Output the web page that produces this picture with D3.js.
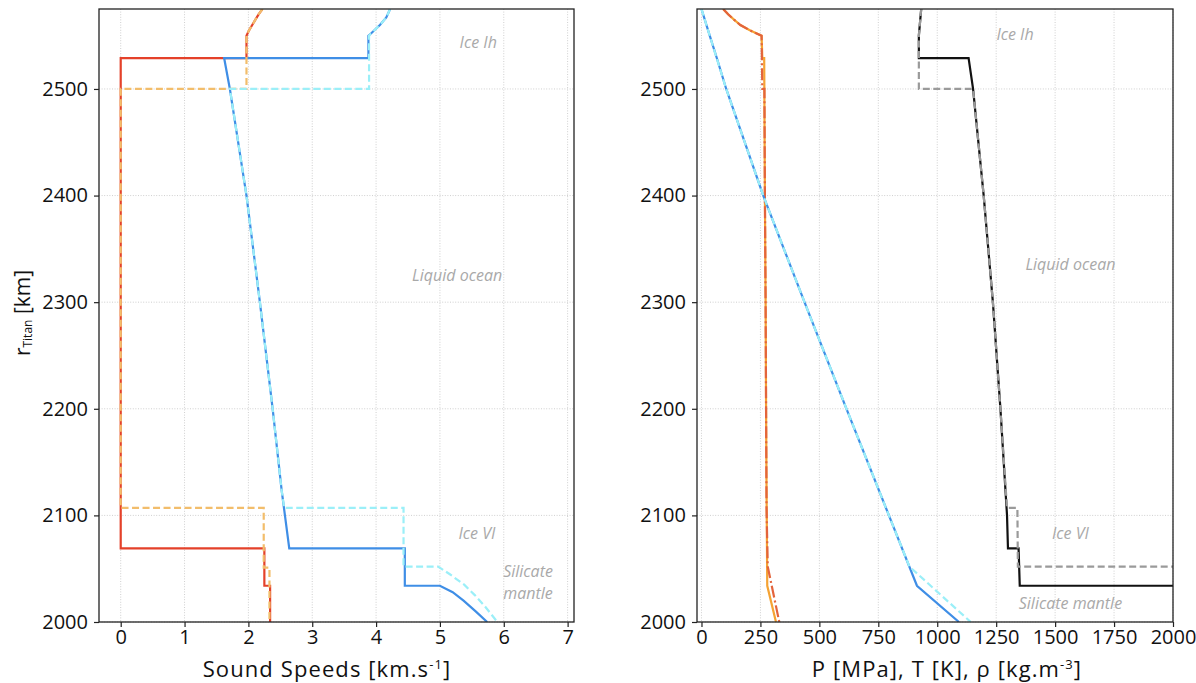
<!DOCTYPE html>
<html>
<head>
<meta charset="utf-8">
<script src="https://cdnjs.cloudflare.com/ajax/libs/d3/7.8.5/d3.min.js"></script>
<style>
    body { margin: 0; background: #fff; }
    svg { font-family: "Open Sans", "DejaVu Sans", sans-serif; }
</style>
</head>
<body>
<div id="chart"></div>
<script>
// shared radius ticks (km)
const rTicks = [2000, 2100, 2200, 2300, 2400, 2500]
const speedTicks = [0, 1, 2, 3, 4, 5, 6, 7]
const propTicks = [0, 250, 500, 750, 1000, 1250, 1500, 1750, 2000]

// Left panel, [speed km/s, r km]
const vsSolid = [[2.22, 2575], [2.16, 2570], [2.11, 2565], [2.06, 2560], [2.01, 2555], [1.97, 2550],
    [1.97, 2529], [0, 2529], [0, 2069], [2.25, 2069], [2.25, 2034], [2.34, 2034], [2.34, 2000]]
const vsDashed = [[2.22, 2575], [2.16, 2570], [2.11, 2565], [2.06, 2560], [2.01, 2555], [1.97, 2550],
    [1.97, 2500], [0, 2500], [0, 2107], [2.24, 2107], [2.24, 2051], [2.33, 2051], [2.33, 2000]]
const vpSolid = [[4.22, 2575], [4.16, 2567], [4.06, 2560], [3.92, 2552], [3.88, 2550], [3.88, 2529],
    [1.62, 2529], [1.71, 2500], [1.97, 2400], [2.18, 2300], [2.38, 2200], [2.52, 2124], [2.64, 2069],
    [4.45, 2069], [4.45, 2034], [5.0, 2034], [5.2, 2028], [5.37, 2020], [5.56, 2010], [5.74, 2000]]
const vpDashed = [[4.22, 2575], [4.16, 2567], [4.06, 2560], [3.92, 2552], [3.89, 2550], [3.89, 2500],
    [1.71, 2500], [1.97, 2400], [2.18, 2300], [2.38, 2200], [2.52, 2124], [2.56, 2107],
    [4.43, 2107], [4.43, 2052], [4.97, 2052], [5.15, 2045], [5.38, 2035], [5.55, 2025], [5.7, 2015], [5.9, 2000]]

// Right panel, [value, r km]
const tempSolid = [[92, 2575], [113, 2570], [138, 2565], [165, 2560], [205, 2555], [255, 2550],
    [258, 2529], [266, 2529], [269, 2400], [272, 2300], [274, 2200], [276, 2124], [279, 2034], [316, 2000]]
const tempDashDot = [[92, 2575], [113, 2570], [138, 2565], [165, 2560], [205, 2555], [255, 2550],
    [258, 2500], [267, 2500], [269, 2400], [272, 2300], [274, 2200], [276, 2107], [281, 2052], [330, 2000]]
const presSolid = [[0, 2575], [35, 2550], [65, 2529], [105, 2500], [262, 2400], [437, 2300],
    [615, 2200], [795, 2100], [914, 2034], [1092, 2000]]
const presDashed = [[0, 2575], [35, 2550], [105, 2500], [262, 2400], [437, 2300],
    [615, 2200], [795, 2100], [882, 2052], [1142, 2000]]
const rhoSolid = [[932, 2575], [922, 2550], [922, 2529], [1133, 2529], [1152, 2500], [1197, 2400],
    [1236, 2300], [1268, 2200], [1296, 2100], [1300, 2069], [1345, 2069], [1350, 2034], [3300, 2034]]
const rhoDashed = [[932, 2575], [922, 2550], [922, 2500], [1152, 2500], [1197, 2400],
    [1236, 2300], [1268, 2200], [1296, 2107], [1340, 2107], [1342, 2052], [3300, 2052]]

// layer names, lines split with "|"
const layerLabels = [
    {panel: 0, text: "Ice Ih", x: 5.6, r: 2542},
    {panel: 0, text: "Liquid ocean", x: 5.27, r: 2324},
    {panel: 0, text: "Ice VI", x: 5.58, r: 2082},
    {panel: 0, text: "Silicate|mantle", x: 6.38, r: 2046},
    {panel: 1, text: "Ice Ih", x: 1330, r: 2550},
    {panel: 1, text: "Liquid ocean", x: 1565, r: 2334},
    {panel: 1, text: "Ice VI", x: 1565, r: 2082},
    {panel: 1, text: "Silicate mantle", x: 1565, r: 2016}
]

const W = 1196, H = 683
const plotTop = 9, plotBottom = 622

let svg = d3.select("#chart").append("svg")
    .attr("width", W)
    .attr("height", H)

let y = d3.scaleLinear().domain([2000, 2575]).range([plotBottom, plotTop])

function drawPanel(idx, left, right, xDomain, xTicks, series) {
    let x = d3.scaleLinear().domain(xDomain).range([left, right])
    let g = svg.append("g")

    g.append("defs").append("clipPath")
        .attr("id", "clip" + idx)
        .append("rect")
        .attr("x", left).attr("y", plotTop)
        .attr("width", right - left).attr("height", plotBottom - plotTop)

    // dotted grid
    g.selectAll(".gx").data(xTicks).join("line")
        .attr("x1", d => x(d)).attr("x2", d => x(d))
        .attr("y1", plotTop).attr("y2", plotBottom)
        .attr("stroke", "#cfcfcf").attr("stroke-width", 1).attr("stroke-dasharray", "1,1.6")
    g.selectAll(".gy").data(rTicks).join("line")
        .attr("x1", left).attr("x2", right)
        .attr("y1", d => y(d)).attr("y2", d => y(d))
        .attr("stroke", "#cfcfcf").attr("stroke-width", 1).attr("stroke-dasharray", "1,1.6")

    // axes
    let xAxis = g.append("g")
        .attr("transform", `translate(0,${plotBottom})`)
        .call(d3.axisBottom(x).tickValues(xTicks).tickSize(5).tickPadding(3).tickFormat(d3.format("d")))
    let yAxis = g.append("g")
        .attr("transform", `translate(${left},0)`)
        .call(d3.axisLeft(y).tickValues(rTicks).tickSize(5).tickPadding(6).tickFormat(d3.format("d")))
    ;[xAxis, yAxis].forEach(a => {
        a.select(".domain").remove()
        a.selectAll("line").attr("stroke", "#222").attr("stroke-width", 1.2)
        a.selectAll("text").attr("font-size", 20).attr("fill", "#111")
            .attr("font-family", "'Open Sans', 'DejaVu Sans', sans-serif")
    })

    // series
    let line = d3.line().x(d => x(d[0])).y(d => y(d[1]))
    let plot = g.append("g").attr("clip-path", `url(#clip${idx})`)
    series.forEach(s => {
        plot.append("path")
            .datum(s.data)
            .attr("d", line)
            .attr("fill", "none")
            .attr("stroke", s.color)
            .attr("stroke-width", 2.2)
            .attr("stroke-dasharray", s.dash || null)
            .attr("stroke-linejoin", "miter")
    })

    // layer labels
    let labels = g.selectAll(".layer").data(layerLabels.filter(d => d.panel === idx)).join("text")
        .attr("x", d => x(d.x))
        .attr("y", d => y(d.r))
        .attr("text-anchor", "middle")
        .attr("dominant-baseline", "middle")
        .attr("font-style", "italic")
        .attr("font-size", 16)
        .attr("fill", "#a9a9a9")
    labels.each(function(d) {
        d3.select(this).selectAll("tspan").data(d.text.split("|")).join("tspan")
            .attr("x", x(d.x))
            .attr("dy", (t, i) => i ? 22 : 0)
            .text(t => t)
    })

    // frame
    g.append("rect")
        .attr("x", left).attr("y", plotTop)
        .attr("width", right - left).attr("height", plotBottom - plotTop)
        .attr("fill", "none").attr("stroke", "#222").attr("stroke-width", 1.3)

    return x
}

drawPanel(0, 99, 574, [-0.34, 7.1], speedTicks, [
    {data: vsSolid, color: "#e4412a"},
    {data: vpSolid, color: "#3f8ee6"},
    {data: vsDashed, color: "#f2bd6b", dash: "7,3.5"},
    {data: vpDashed, color: "#9beff8", dash: "7,3.5"}
])

drawPanel(1, 697, 1173, [-19, 2000], propTicks, [
    {data: tempSolid, color: "#f5a333"},
    {data: tempDashDot, color: "#e3643c", dash: "12,3,2,3"},
    {data: presSolid, color: "#3f8ee6"},
    {data: presDashed, color: "#9beff8", dash: "7,3.5"},
    {data: rhoSolid, color: "#111111"},
    {data: rhoDashed, color: "#9a9a9a", dash: "7,3.5"}
])

// axis titles
let ylab = svg.append("text")
    .attr("transform", "translate(30,313) rotate(-90)")
    .attr("text-anchor", "middle")
    .attr("font-size", 21)
    .attr("fill", "#111")
ylab.append("tspan").text("r")
ylab.append("tspan").attr("font-size", 12).attr("dy", 2).text("Titan")
ylab.append("tspan").attr("dy", -2).text(" [km]")

let xlab1 = svg.append("text")
    .attr("x", 327).attr("y", 677)
    .attr("text-anchor", "middle")
    .attr("font-size", 22)
    .attr("letter-spacing", 1.1)
    .attr("fill", "#111")
xlab1.append("tspan").text("Sound Speeds [km.s")
xlab1.append("tspan").attr("font-size", 13).attr("dy", -8).text("-1")
xlab1.append("tspan").attr("dy", 8).text("]")

let xlab2 = svg.append("text")
    .attr("x", 947).attr("y", 677)
    .attr("text-anchor", "middle")
    .attr("font-size", 22)
    .attr("letter-spacing", 1.1)
    .attr("fill", "#111")
xlab2.append("tspan").text("P [MPa], T [K], ρ [kg.m")
xlab2.append("tspan").attr("font-size", 13).attr("dy", -8).text("-3")
xlab2.append("tspan").attr("dy", 8).text("]")
</script>
</body>
</html>
